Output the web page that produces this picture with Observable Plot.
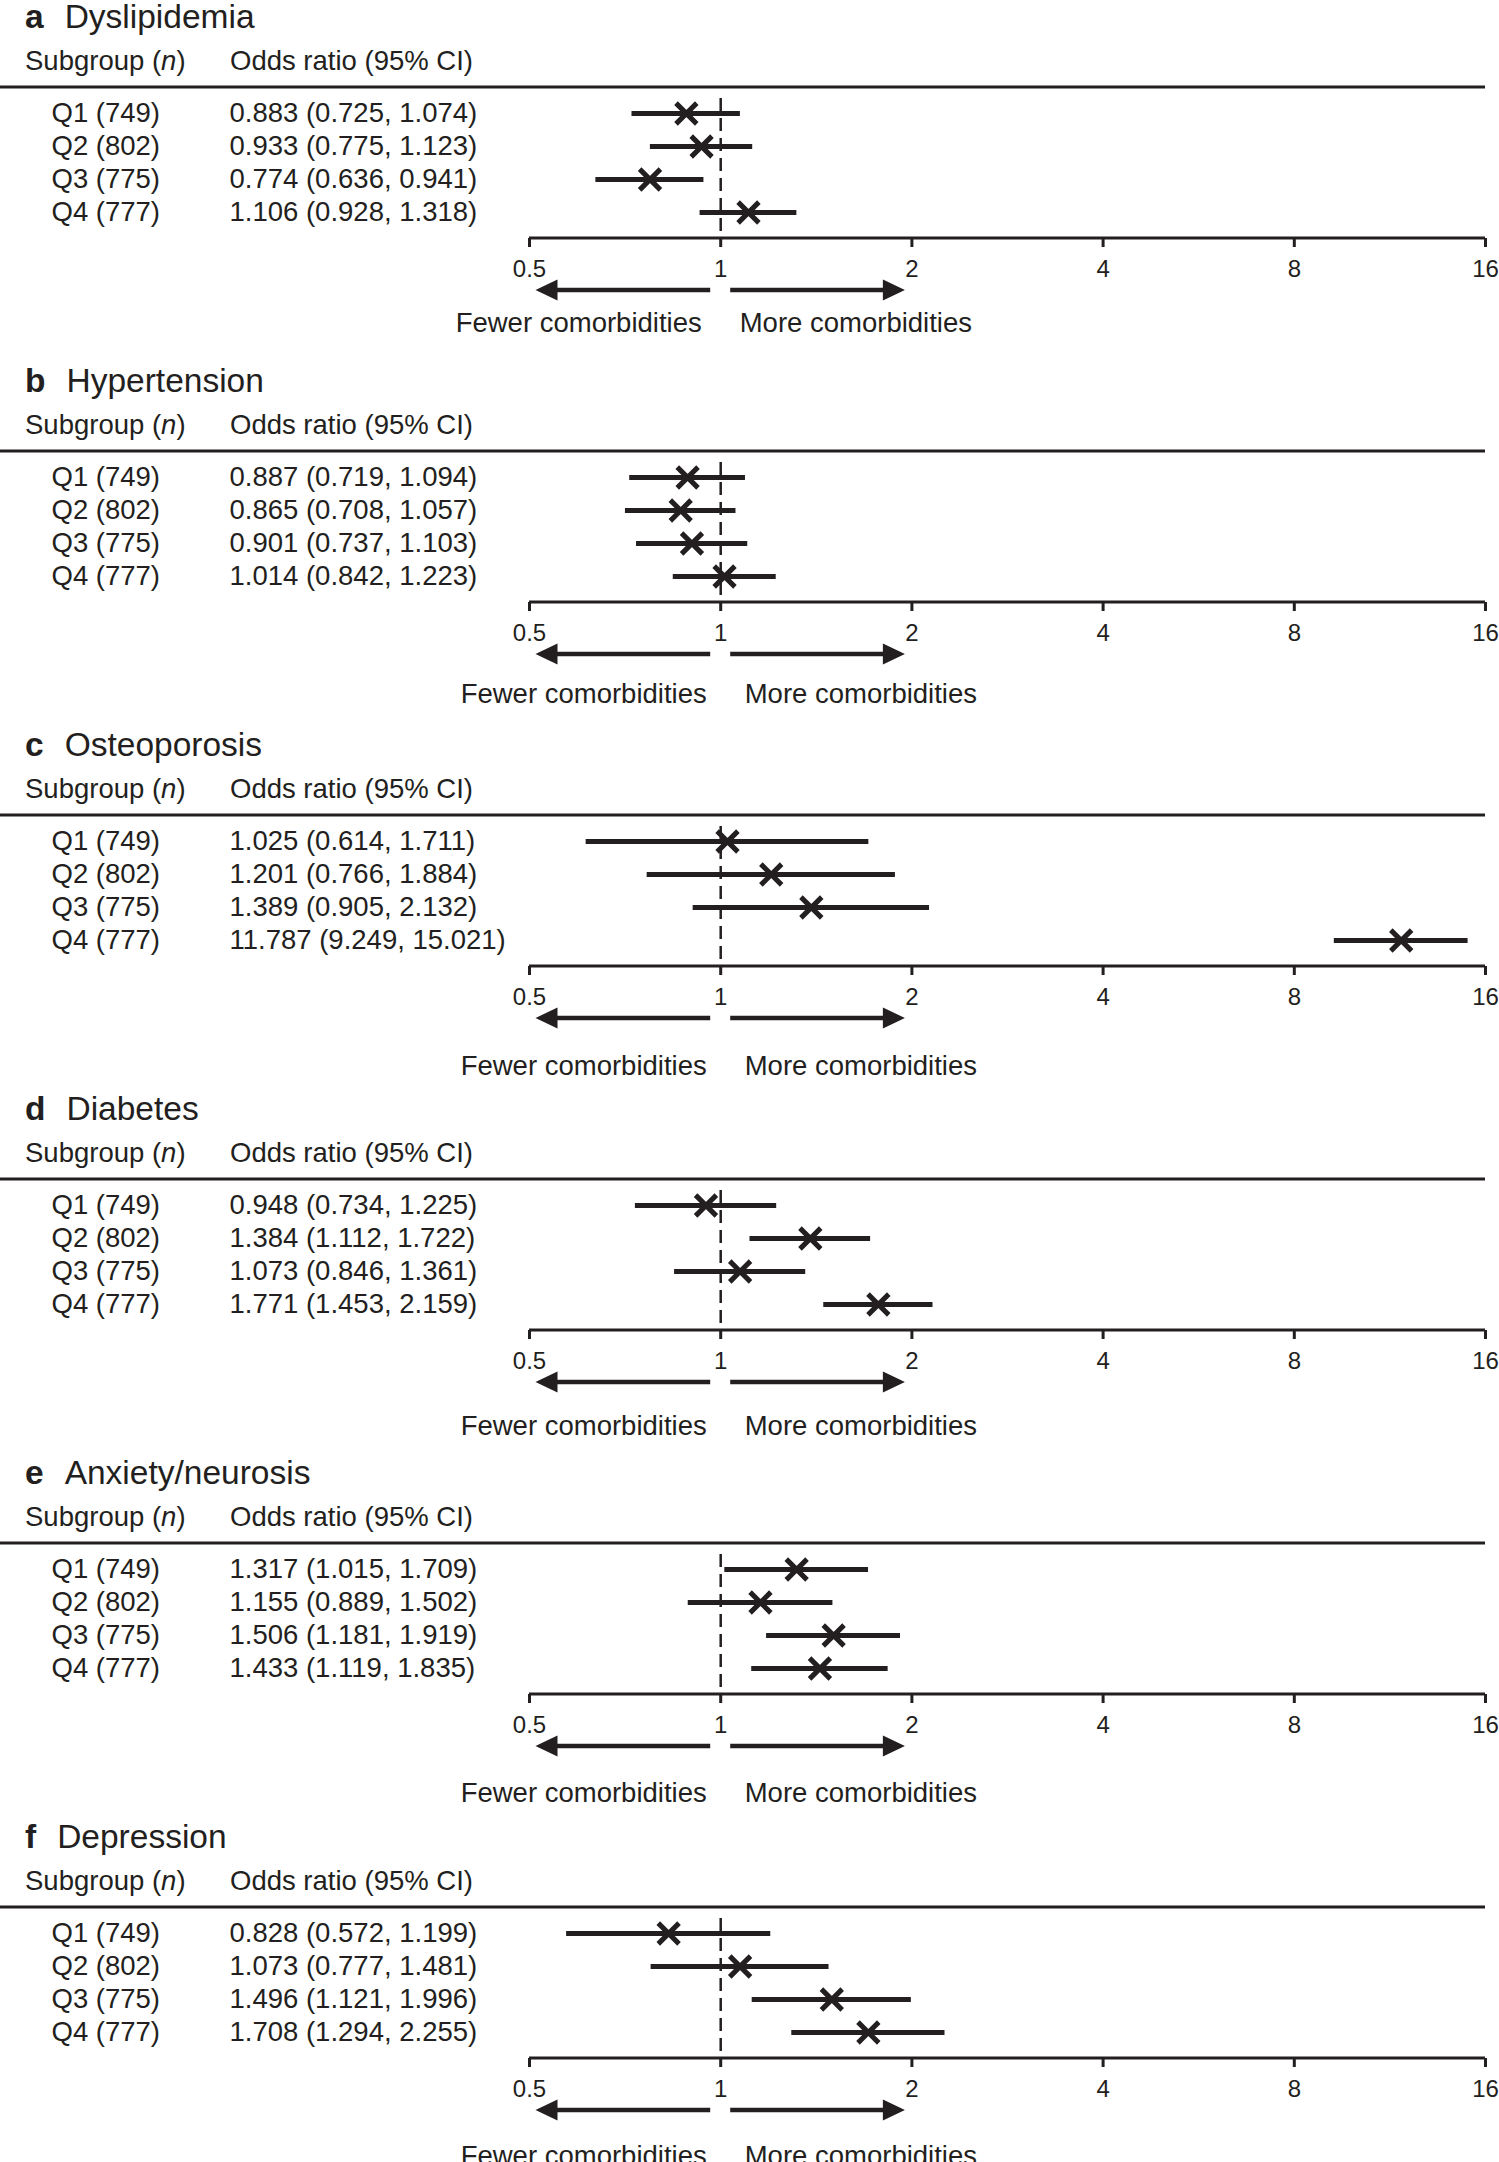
<!DOCTYPE html>
<html>
<head>
<meta charset="utf-8">
<script src="https://cdn.jsdelivr.net/npm/d3@7"></script>
<script src="https://cdn.jsdelivr.net/npm/@observablehq/plot@0.6"></script>
<style>
html, body { margin: 0; padding: 0; background: #fff; overflow: hidden; }
#chart svg { display: block; }
</style>
</head>
<body>
<div id="chart"></div>
<script>
// ---------- data ----------
const panelLetters = ["a", "b", "c", "d", "e", "f"];
const panelTitles = ["Dyslipidemia", "Hypertension", "Osteoporosis", "Diabetes", "Anxiety/neurosis", "Depression"];
const subgroups = ["Q1", "Q2", "Q3", "Q4"];
const subgroupN = [749, 802, 775, 777];
// [odds ratio, lower 95% CI, upper 95% CI] per subgroup
const dyslipidemia = [[0.883, 0.725, 1.074], [0.933, 0.775, 1.123], [0.774, 0.636, 0.941], [1.106, 0.928, 1.318]];
const hypertension = [[0.887, 0.719, 1.094], [0.865, 0.708, 1.057], [0.901, 0.737, 1.103], [1.014, 0.842, 1.223]];
const osteoporosis = [[1.025, 0.614, 1.711], [1.201, 0.766, 1.884], [1.389, 0.905, 2.132], [11.787, 9.249, 15.021]];
const diabetes = [[0.948, 0.734, 1.225], [1.384, 1.112, 1.722], [1.073, 0.846, 1.361], [1.771, 1.453, 2.159]];
const anxietyNeurosis = [[1.317, 1.015, 1.709], [1.155, 0.889, 1.502], [1.506, 1.181, 1.919], [1.433, 1.119, 1.835]];
const depression = [[0.828, 0.572, 1.199], [1.073, 0.777, 1.481], [1.496, 1.121, 1.996], [1.708, 1.294, 2.255]];
const panelValues = [dyslipidemia, hypertension, osteoporosis, diabetes, anxietyNeurosis, depression];
const xTicks = [0.5, 1, 2, 4, 8, 16];
const referenceOR = 1;
const headerSubgroup = "Subgroup (";
const headerN = "n";
const headerOR = "Odds ratio (95% CI)";
const directionLabels = ["Fewer comorbidities", "More comorbidities"];
const directionTargets = [0.5, 2];

// ---------- layout / style ----------
const INK = "#231f20";
const FONT = "'Liberation Sans', Arial, Helvetica, sans-serif";
const W = 1499, H = 364;
const AXIS_Y = 238;
const labelDy = [85, 92, 100, 96, 99, 98];
const labelShift = [0, 5, 5, 5, 5, 5];
const fmt = v => v.toFixed(3);

function decor(p) {
  return (index, scales, values, dims) => {
    const x = scales.x;
    const g = d3.create("svg:g").attr("fill", INK).attr("font-family", FONT).attr("text-anchor", "start");
    const yAxis = dims.height - dims.marginBottom;
    // title
    const t = g.append("text").attr("x", 25).attr("y", 28).attr("font-size", 33.5);
    t.append("tspan").attr("font-weight", "bold").text(panelLetters[p]);
    t.append("tspan").attr("dx", 21).text(panelTitles[p]);
    // header
    const h = g.append("text").attr("x", 25).attr("y", 69.5).attr("font-size", 27.5);
    h.append("tspan").text(headerSubgroup);
    h.append("tspan").attr("font-style", "italic").text(headerN);
    h.append("tspan").text(")");
    g.append("text").attr("x", 230).attr("y", 69.5).attr("font-size", 27.5).text(headerOR);
    // header rule
    g.append("line").attr("x1", 0).attr("x2", x(xTicks[xTicks.length - 1]))
      .attr("y1", 87).attr("y2", 87).attr("stroke", INK).attr("stroke-width", 3);
    // axis line
    g.append("line").attr("x1", x(xTicks[0])).attr("x2", x(xTicks[xTicks.length - 1]))
      .attr("y1", yAxis).attr("y2", yAxis).attr("stroke", INK).attr("stroke-width", 3);
    // direction arrows
    const ay = yAxis + 52;
    directionTargets.forEach(tv => {
      const s = tv < referenceOR ? -1 : 1;
      const x0 = x(referenceOR) + s * 10;
      const tip = x(tv) - s * 6.5;
      const base = tip - s * 22;
      g.append("line").attr("x1", x0).attr("x2", base + s * 1).attr("y1", ay).attr("y2", ay)
        .attr("stroke", INK).attr("stroke-width", 4.5);
      g.append("path").attr("d", `M${tip},${ay}L${base},${ay - 10.5}L${base},${ay + 10.5}Z`).attr("fill", INK);
    });
    return g.node();
  };
}

const chart = document.getElementById("chart");
panelValues.forEach((vals, p) => {
  const rows = subgroups.map((q, j) => ({q, n: subgroupN[j], or: vals[j][0], lo: vals[j][1], hi: vals[j][2]}));
  const dirs = directionLabels.map((label, k) => ({label, target: directionTargets[k]}));
  const svg = Plot.plot({
    width: W,
    height: H,
    marginLeft: 0,
    marginRight: 14,
    marginTop: 98,
    marginBottom: H - AXIS_Y,
    style: {fontFamily: FONT, color: INK, background: "#fff", maxWidth: "none", overflow: "visible"},
    x: {type: "log", base: 2, domain: [0.5, 16], range: [529, 1485]},
    y: {type: "point", domain: subgroups, range: [112.5, 211.5], padding: 0, axis: null},
    marks: [
      decor(p),
      Plot.ruleX([referenceOR], {stroke: INK, strokeWidth: 2.5, strokeDasharray: "13,7"}),
      Plot.ruleY(rows, {y: "q", x1: "lo", x2: "hi", stroke: INK, strokeWidth: 5}),
      Plot.dot(rows, {x: "or", y: "q", symbol: "times", r: 9.5, stroke: INK, strokeWidth: 5}),
      Plot.text(rows, {y: "q", text: d => `${d.q} (${d.n})`, frameAnchor: "left", dx: 51, textAnchor: "start", fontSize: 27.5, fill: INK}),
      Plot.text(rows, {y: "q", text: d => `${fmt(d.or)} (${fmt(d.lo)}, ${fmt(d.hi)})`, frameAnchor: "left", dx: 229, textAnchor: "start", fontSize: 27.5, fill: INK}),
      Plot.axisX(xTicks, {anchor: "bottom", tickSize: 9, tickPadding: 12, fontSize: 24, strokeWidth: 3, tickFormat: d => String(d), label: null}),
      Plot.text(dirs.filter(d => d.target < referenceOR), {x: () => referenceOR, text: "label", frameAnchor: "bottom", dx: -19 + labelShift[p], dy: labelDy[p], textAnchor: "end", lineAnchor: "middle", fontSize: 27.5, fill: INK}),
      Plot.text(dirs.filter(d => d.target > referenceOR), {x: () => referenceOR, text: "label", frameAnchor: "bottom", dx: 19 + labelShift[p], dy: labelDy[p], textAnchor: "start", lineAnchor: "middle", fontSize: 27.5, fill: INK})
    ]
  });
  chart.appendChild(svg);
});
</script>
</body>
</html>
